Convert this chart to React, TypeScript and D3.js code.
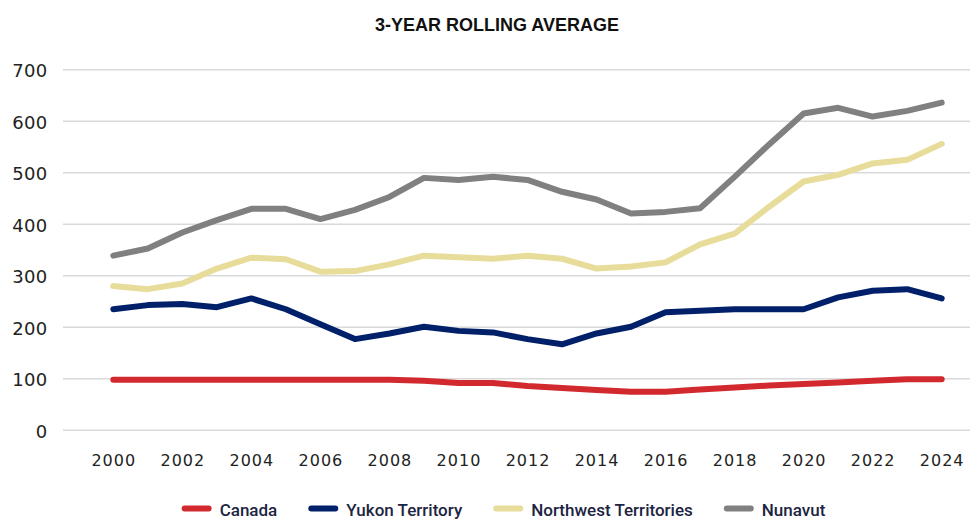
import React, { useEffect, useRef } from "react";
import * as d3 from "d3";

const years = [2000, 2001, 2002, 2003, 2004, 2005, 2006, 2007, 2008, 2009, 2010, 2011, 2012, 2013, 2014, 2015, 2016, 2017, 2018, 2019, 2020, 2021, 2022, 2023, 2024];
const canada = [98, 98, 98, 98, 98, 98, 98, 98, 98, 96, 92, 92, 86, 82, 78, 75, 75, 79, 83, 87, 90, 93, 96, 99, 99];
const yukon = [235, 243, 245, 239, 256, 235, 206, 177, 188, 201, 193, 190, 177, 167, 188, 201, 229, 232, 235, 235, 235, 258, 271, 274, 256];
const nwt = [280, 274, 285, 314, 335, 332, 308, 309, 322, 339, 336, 333, 339, 333, 314, 318, 326, 361, 382, 434, 483, 496, 518, 525, 556];
const nunavut = [339, 353, 384, 408, 430, 430, 410, 428, 453, 490, 486, 492, 486, 463, 448, 421, 424, 431, 492, 555, 615, 626, 609, 620, 636];
const seriesNames = ["Canada", "Yukon Territory", "Northwest Territories", "Nunavut"];
const seriesColors = ["#D2292F", "#00216A", "#E8DC9A", "#808080"];
const yTicks = [0, 100, 200, 300, 400, 500, 600, 700];
const xTickYears = [2000, 2002, 2004, 2006, 2008, 2010, 2012, 2014, 2016, 2018, 2020, 2022, 2024];
const title = "3-YEAR ROLLING AVERAGE";

export default function App() {
  const ref = useRef<SVGSVGElement | null>(null);

  useEffect(() => {
    const svg = d3.select(ref.current);
    svg.selectAll("*").remove();
    const W = 970;
    const x = d3.scalePoint<number>().domain(years).range([113.3, 941.7]);
    const y = d3.scaleLinear().domain([0, 700]).range([430.3, 69.7]);
    const seriesValues = [canada, yukon, nwt, nunavut];

    svg.append("text")
      .attr("x", 497).attr("y", 31)
      .attr("text-anchor", "middle")
      .attr("font-family", "'Liberation Sans', Arial, sans-serif")
      .attr("font-weight", 700).attr("font-size", 18)
      .attr("fill", "#111")
      .text(title);

    const grid = svg.append("g");
    grid.selectAll("line").data(yTicks).join("line")
      .attr("x1", 63).attr("x2", W)
      .attr("y1", (d) => y(d)).attr("y2", (d) => y(d))
      .attr("stroke", "#d9d9d9").attr("stroke-width", 1.5);

    svg.append("g").selectAll("text").data(yTicks).join("text")
      .attr("x", 47.5).attr("y", (d) => y(d) + 7.5)
      .attr("text-anchor", "end")
      .attr("font-family", "'DejaVu Sans', sans-serif")
      .attr("font-size", 18)
      .attr("letter-spacing", 0.3)
      .attr("fill", "#222")
      .text((d) => String(d));

    svg.append("g").selectAll("text").data(xTickYears).join("text")
      .attr("x", (d) => (x(d) as number) + 0.5).attr("y", 465.7)
      .attr("text-anchor", "middle")
      .attr("font-family", "'DejaVu Sans', sans-serif")
      .attr("font-size", 16)
      .attr("letter-spacing", 1)
      .attr("fill", "#222")
      .text((d) => String(d));

    const line = d3.line<number>()
      .x((_, i) => x(years[i]) as number)
      .y((d) => y(d));

    seriesValues.forEach((vals, i) => {
      svg.append("path")
        .attr("d", line(vals) as string)
        .attr("fill", "none")
        .attr("stroke", seriesColors[i])
        .attr("stroke-width", 6)
        .attr("stroke-linecap", "round")
        .attr("stroke-linejoin", "round");
    });

    // legend
    const lg = svg.append("g");
    const swW = 30, gap = 8, itemGap = 31;
    let cx = 0;
    const items: { g: any; w: number }[] = [];
    seriesNames.forEach((name, i) => {
      const g = lg.append("g");
      g.append("line")
        .attr("x1", 3).attr("x2", swW - 3)
        .attr("y1", 508.5).attr("y2", 508.5)
        .attr("stroke", seriesColors[i]).attr("stroke-width", 6)
        .attr("stroke-linecap", "round");
      const t = g.append("text")
        .attr("x", swW + gap).attr("y", 515.5)
        .attr("font-family", "Roboto, sans-serif")
        .attr("font-weight", 500).attr("font-size", 17)
        .attr("fill", "#1c2541")
        .text(name);
      const tw = (t.node() as SVGTextElement).getComputedTextLength();
      const w = swW + gap + tw;
      items.push({ g, w });
    });
    const total = items.reduce((s, it) => s + it.w, 0) + itemGap * (items.length - 1);
    cx = 503.5 - total / 2;
    items.forEach((it) => {
      it.g.attr("transform", `translate(${cx},0)`);
      cx += it.w + itemGap;
    });
  }, []);

  return (
    <svg
      ref={ref}
      width={970}
      height={519}
      style={{ position: "absolute", left: 0, top: 0, background: "#fff" }}
    />
  );
}
